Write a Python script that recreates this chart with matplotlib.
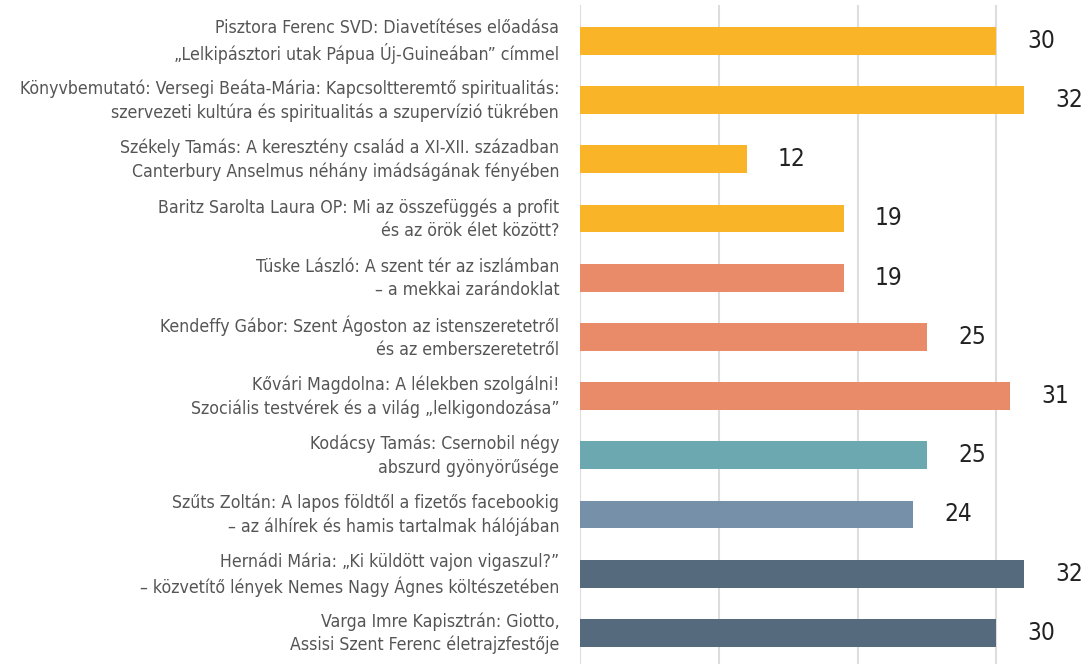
import matplotlib.pyplot as plt
import matplotlib.transforms as mtransforms

labels = [
    "Pisztora Ferenc SVD: Diavetítéses előadása\n„Lelkipásztori utak Pápua Új-Guineában” címmel",
    "Könyvbemutató: Versegi Beáta-Mária: Kapcsoltteremtő spiritualitás:\nszervezeti kultúra és spiritualitás a szupervízió tükrében",
    "Székely Tamás: A keresztény család a XI-XII. században\nCanterbury Anselmus néhány imádságának fényében",
    "Baritz Sarolta Laura OP: Mi az összefüggés a profit\nés az örök élet között?",
    "Tüske László: A szent tér az iszlámban\n– a mekkai zarándoklat",
    "Kendeffy Gábor: Szent Ágoston az istenszeretetről\nés az emberszeretetről",
    "Kővári Magdolna: A lélekben szolgálni!\nSzociális testvérek és a világ „lelkigondozása”",
    "Kodácsy Tamás: Csernobil négy\nabszurd gyönyörűsége",
    "Szűts Zoltán: A lapos földtől a fizetős facebookig\n– az álhírek és hamis tartalmak hálójában",
    "Hernádi Mária: „Ki küldött vajon vigaszul?”\n– közvetítő lények Nemes Nagy Ágnes költészetében",
    "Varga Imre Kapisztrán: Giotto,\nAssisi Szent Ferenc életrajzfestője",
]
values = [30, 32, 12, 19, 19, 25, 31, 25, 24, 32, 30]
colors = ["#F9B428"] * 4 + ["#E98A68"] * 3 + ["#6BA8B0", "#7790AA", "#566A7D", "#566A7D"]

plt.rcParams['font.family'] = ['DejaVu Sans']
plt.rcParams['font.stretch'] = 'condensed'

fig = plt.figure(figsize=(10.81, 6.64), dpi=100)
ax = fig.add_axes([580 / 1081, -0.02, 501 / 1081, 1.012])

y = list(range(len(values)))
ax.barh(y, values, height=0.47, color=colors, zorder=3)
ax.set_xlim(0, 36.1)
ax.set_ylim(10.75, -0.6)
ax.set_xticks([0, 10, 20, 30])
ax.xaxis.grid(True, color="#DDDDDD", linewidth=1.5, zorder=0)
ax.set_xticklabels([])
ax.tick_params(axis='both', length=0)
ax.set_yticks(y)
ax.set_yticklabels(labels, fontsize=12.7, color="#555555", linespacing=1.35)
ax.tick_params(axis='y', pad=15)
# nudge the two-line labels up a little, as in the original
shift = mtransforms.ScaledTranslation(0, 4 / 100, fig.dpi_scale_trans)
for t in ax.get_yticklabels():
    t.set_transform(t.get_transform() + shift)
for s in ax.spines.values():
    s.set_visible(False)

for yi, v in zip(y, values):
    ax.annotate(str(v), (v, yi), xytext=(31, 0), textcoords='offset pixels',
                va='center', ha='left', fontsize=17.5, color="#222222")

fig.savefig("out.png", dpi=100)
